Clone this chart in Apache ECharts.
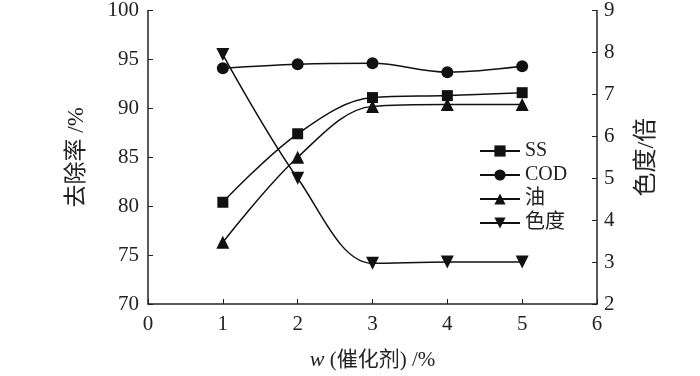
<!DOCTYPE html>
<html>
<head>
<meta charset="utf-8">
<script src="https://cdn.jsdelivr.net/npm/echarts@6/dist/echarts.min.js"></script>
<style>
  html, body { margin: 0; padding: 0; background: #fff; }
  #chart { width: 700px; height: 376px; }
</style>
</head>
<body>
<div id="chart"></div>
<script>
// catalyst dosage w / %
const dosage = [1, 2, 3, 4, 5];
// removal rate / %
const ss = [80.4, 87.4, 91.1, 91.3, 91.6];
const cod = [94.1, 94.5, 94.6, 93.7, 94.3];
const oil = [76.3, 85.0, 90.2, 90.4, 90.4];
// colour (chroma) / times, right axis
const chroma = [7.95, 5.0, 2.97, 3.0, 3.0];
const seriesNames = ["SS", "COD", "油", "色度"];

const font = "'Liberation Serif', 'Noto Sans CJK SC', serif";
const pair = (vals) => dosage.map((x, i) => [x, vals[i]]);

function makeLine(name, vals, symbol, yIndex, size) {
  return {
    name: name,
    type: "line",
    yAxisIndex: yIndex,
    smooth: 0.35,
    symbol: symbol,
    symbolSize: size,
    data: pair(vals),
    itemStyle: { color: "#111" },
    lineStyle: { color: "#111", width: 1.5 }
  };
}

let myChart = echarts.init(document.getElementById("chart"));
let option = {
  animation: false,
  textStyle: { fontFamily: font, color: "#222" },
  grid: { left: 148, right: 103, top: 7, bottom: 62 },
  legend: {
    orient: "vertical",
    left: 474,
    top: 136,
    itemWidth: 40,
    itemHeight: 14,
    itemGap: 4,
    textStyle: { fontFamily: font, fontSize: 20, color: "#222" },
    data: seriesNames
  },
  xAxis: {
    type: "value",
    min: 0,
    max: 6,
    interval: 1,
    name: "{i|w} (催化剂) /%",
    nameLocation: "middle",
    nameGap: 45,
    nameTextStyle: {
      fontFamily: font,
      fontSize: 21,
      color: "#222",
      rich: { i: { fontStyle: "italic", fontFamily: font, fontSize: 22 } }
    },
    axisLine: { lineStyle: { color: "#222", width: 1.5 } },
    axisTick: { inside: true, length: 5, lineStyle: { color: "#222" } },
    axisLabel: { margin: 10, fontSize: 21, color: "#222" },
    splitLine: { show: false }
  },
  yAxis: [
    {
      type: "value",
      min: 70,
      max: 100,
      interval: 5,
      name: "去除率 /%",
      nameLocation: "middle",
      nameGap: 60,
      nameRotate: 90,
      nameTextStyle: { fontFamily: font, fontSize: 23, color: "#222" },
      axisLine: { show: true, lineStyle: { color: "#222", width: 1.5 } },
      axisTick: { show: true, inside: true, length: 5, lineStyle: { color: "#222" } },
      axisLabel: { margin: 9, fontSize: 21, color: "#222" },
      splitLine: { show: false }
    },
    {
      type: "value",
      position: "right",
      min: 2,
      max: 9,
      interval: 1,
      name: "色度/倍",
      nameLocation: "middle",
      nameGap: 38,
      nameRotate: 90,
      nameTextStyle: { fontFamily: font, fontSize: 24, color: "#222" },
      axisLine: { show: true, lineStyle: { color: "#222", width: 1.5 } },
      axisTick: { show: true, inside: true, length: 5, lineStyle: { color: "#222" } },
      axisLabel: { margin: 7, fontSize: 21, color: "#222" },
      splitLine: { show: false }
    }
  ],
  series: [
    makeLine(seriesNames[0], ss, "rect", 0, 11),
    makeLine(seriesNames[1], cod, "circle", 0, 12),
    makeLine(seriesNames[2], oil, "triangle", 0, 13),
    makeLine(seriesNames[3], chroma, "path://M0,0 L10,0 L5,9 Z", 1, 13)
  ]
};
myChart.setOption(option);
window.onresize = function() {
  myChart.resize();
};
</script>
</body>
</html>
